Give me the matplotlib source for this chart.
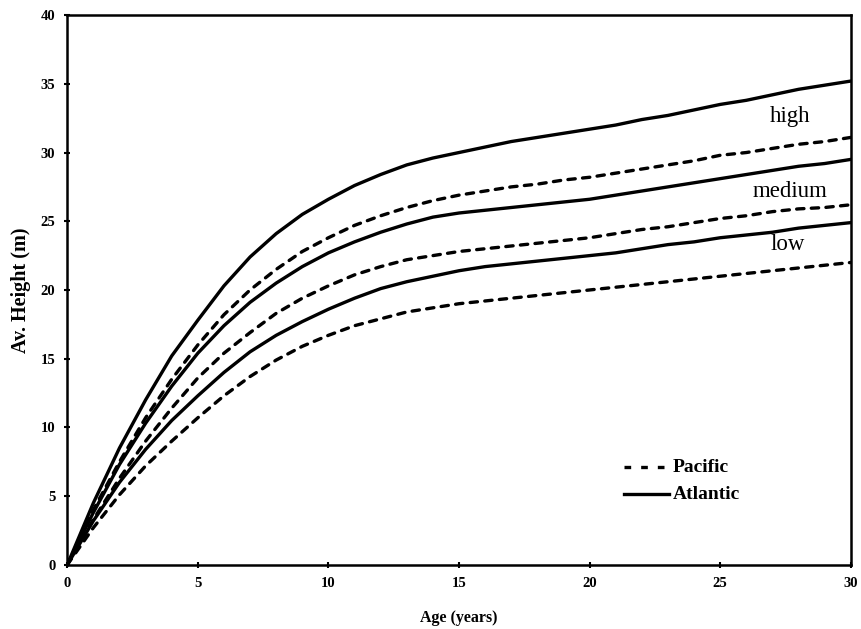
import numpy as np
import matplotlib.pyplot as plt
from matplotlib.lines import Line2D

age = list(range(0, 31))

# Atlantic (solid)
atl_high = [0, 4.5, 8.5, 12, 15.2, 17.8, 20.3, 22.4, 24.1, 25.5, 26.6, 27.6, 28.4, 29.1, 29.6,
            30.0, 30.4, 30.8, 31.1, 31.4, 31.7, 32.0, 32.4, 32.7, 33.1, 33.5, 33.8, 34.2, 34.6, 34.9, 35.2]
atl_medium = [0, 3.8, 7.3, 10.3, 13.0, 15.4, 17.4, 19.1, 20.5, 21.7, 22.7, 23.5, 24.2, 24.8, 25.3,
              25.6, 25.8, 26.0, 26.2, 26.4, 26.6, 26.9, 27.2, 27.5, 27.8, 28.1, 28.4, 28.7, 29.0, 29.2, 29.5]
atl_low = [0, 3.2, 6.0, 8.4, 10.5, 12.3, 14.0, 15.5, 16.7, 17.7, 18.6, 19.4, 20.1, 20.6, 21.0,
           21.4, 21.7, 21.9, 22.1, 22.3, 22.5, 22.7, 23.0, 23.3, 23.5, 23.8, 24.0, 24.2, 24.5, 24.7, 24.9]

# Pacific (dashed)
pac_high = [0, 4.0, 7.5, 10.7, 13.5, 16.0, 18.2, 20.0, 21.5, 22.8, 23.8, 24.7, 25.4, 26.0, 26.5,
            26.9, 27.2, 27.5, 27.7, 28.0, 28.2, 28.5, 28.8, 29.1, 29.4, 29.8, 30.0, 30.3, 30.6, 30.8, 31.1]
pac_medium = [0, 3.3, 6.3, 9.0, 11.4, 13.6, 15.4, 16.9, 18.3, 19.4, 20.3, 21.1, 21.7, 22.2, 22.5,
              22.8, 23.0, 23.2, 23.4, 23.6, 23.8, 24.1, 24.4, 24.6, 24.9, 25.2, 25.4, 25.7, 25.9, 26.0, 26.2]
pac_low = [0, 2.7, 5.1, 7.2, 9.0, 10.7, 12.3, 13.7, 14.9, 15.9, 16.7, 17.4, 17.9, 18.4, 18.7,
           19.0, 19.2, 19.4, 19.6, 19.8, 20.0, 20.2, 20.4, 20.6, 20.8, 21.0, 21.2, 21.4, 21.6, 21.8, 22.0]

site_labels = ["high", "medium", "low"]
label_pos = [(27.67, 32.6), (27.67, 27.2), (27.6, 23.3)]

plt.rcParams['font.family'] = ['Liberation Serif', 'DejaVu Serif']

fig = plt.figure(figsize=(8.62, 6.29), dpi=100)
ax = fig.add_axes([0.078, 0.102, 0.909, 0.874])

dash = (0, (2.2, 2.2))
for s in [atl_high, atl_medium, atl_low]:
    ax.plot(age, s, color="black", lw=2.4, solid_capstyle="round", solid_joinstyle="round")
for s in [pac_high, pac_medium, pac_low]:
    ax.plot(age, s, color="black", lw=2.4, linestyle=dash, dash_capstyle="round")

for lab, (x, y) in zip(site_labels, label_pos):
    ax.text(x, y, lab, fontsize=16.5, ha="center", va="center")

ax.set_xlim(0, 30)
ax.set_ylim(0, 40)
ax.set_xticks(range(0, 31, 5))
ax.set_yticks(range(0, 41, 5))
for lbl in ax.get_xticklabels() + ax.get_yticklabels():
    lbl.set_fontweight("bold")
    lbl.set_fontsize(10.5)
ax.tick_params(direction="inout", length=5, width=1.5, pad=6)
for sp in ax.spines.values():
    sp.set_linewidth(1.8)

ax.set_xlabel("Age (years)", fontsize=11.5, fontweight="bold", labelpad=15)
ax.set_ylabel("Av. Height (m)", fontsize=14.5, fontweight="bold", labelpad=7)

handles = [Line2D([], [], color="black", lw=2.4, linestyle=(0, (2, 3))),
           Line2D([], [], color="black", lw=2.4)]
leg = ax.legend(handles, ["Pacific", "Atlantic"], loc="lower left",
                bbox_to_anchor=(0.695, 0.09), frameon=False, handlelength=3.2,
                handletextpad=0.3, labelspacing=0.7)
for t in leg.get_texts():
    t.set_fontweight("bold")
    t.set_fontsize(14)

fig.savefig("out.png", dpi=100)
